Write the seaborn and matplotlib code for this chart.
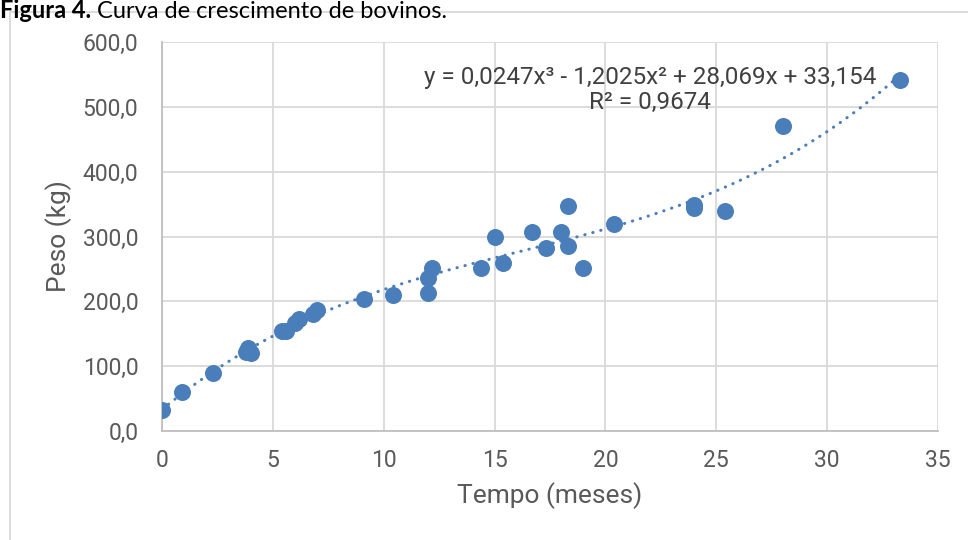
import matplotlib
matplotlib.use("Agg")
import matplotlib.pyplot as plt
import seaborn as sns
import pandas as pd
from matplotlib.patches import Rectangle

# ---- data ----
tempo = [0.0, 0.9, 2.3, 3.8, 3.9, 4.0, 5.4, 5.6, 6.0, 6.2, 6.8, 7.0, 9.1, 10.4,
         12.0, 12.0, 12.2, 14.4, 15.0, 15.4, 16.7, 17.3, 18.0, 18.3, 18.3, 19.0,
         20.4, 24.0, 24.0, 25.4, 28.0, 33.3]
peso = [32, 60, 90, 122, 128, 121, 154, 155, 167, 173, 180, 186, 204, 210,
        213, 236, 251, 251, 299, 259, 307, 282, 307, 347, 285, 251,
        320, 344, 348, 340, 470, 541]
x_ticks = [0, 5, 10, 15, 20, 25, 30, 35]
y_ticks = [0, 100, 200, 300, 400, 500, 600]
y_tick_labels = ["0,0", "100,0", "200,0", "300,0", "400,0", "500,0", "600,0"]
equation_text = "y = 0,0247x³ - 1,2025x² + 28,069x + 33,154\nR² = 0,9674"
title_bold = "Figura 4."
title_rest = " Curva de crescimento de bovinos."
x_label = "Tempo (meses)"
y_label = "Peso (kg)"

df = pd.DataFrame({"Tempo": tempo, "Peso": peso})

sns.set_theme(style="white")
plt.rcParams["font.family"] = ["Roboto", "DejaVu Sans"]

BLUE = "#4A7EBB"
TXT = "#595959"
GRID = "#D9D9D9"

fig = plt.figure(figsize=(9.68, 5.4), dpi=100)
W, H = 968, 540
ax = fig.add_axes([162 / W, 1 - 431 / H, (938 - 162) / W, (431 - 42) / H])

sns.regplot(data=df, x="Tempo", y="Peso", order=3, ci=None, scatter=False, ax=ax,
            line_kws=dict(color=BLUE, linewidth=2.2, linestyle=(0, (0.1, 2.6)),
                          dash_capstyle="round", zorder=3))
sns.scatterplot(data=df, x="Tempo", y="Peso", ax=ax, color=BLUE, s=150,
                edgecolor=BLUE, linewidth=0, zorder=4)

ax.set_xlim(0, 35)
ax.set_ylim(0, 600)
ax.set_xticks(x_ticks)
ax.set_yticks(y_ticks)
ax.set_yticklabels(y_tick_labels)
ax.grid(True, color=GRID, linewidth=1.3)
ax.set_axisbelow(True)
for s in ["top", "right"]:
    ax.spines[s].set_visible(False)
for s in ["left", "bottom"]:
    ax.spines[s].set_color("#BFBFBF")
    ax.spines[s].set_linewidth(1.3)
ax.tick_params(axis="both", length=0, labelsize=16.5, colors=TXT)
ax.tick_params(axis="y", pad=17)
ax.tick_params(axis="x", pad=13)
ax.set_xlabel(x_label, fontsize=19, color=TXT, labelpad=7)
ax.set_ylabel(y_label, fontsize=19, color=TXT, labelpad=8)

ax.text(650 / W, 1 - 90 / H, equation_text, transform=fig.transFigure,
        ha="center", va="center", fontsize=17.5, color="#404040",
        linespacing=1.15)

# outer chart border
fig.patches.append(Rectangle((10 / W, -0.02), 1.0, 1 - 12 / H + 0.02,
                             transform=fig.transFigure, fill=False,
                             edgecolor=GRID, linewidth=1.3))

# title
t1 = fig.text(0.0, 1 - 18 / H, title_bold, fontsize=17, fontweight="bold",
              family=["Lato", "DejaVu Sans"], va="baseline", ha="left", color="black")
fig.canvas.draw()
bb = t1.get_window_extent(renderer=fig.canvas.get_renderer())
fig.text(bb.x1 / W, 1 - 18 / H, title_rest, fontsize=17,
         family=["Lato", "DejaVu Sans"], va="baseline", ha="left", color="black")

fig.savefig("out.png", dpi=100)
